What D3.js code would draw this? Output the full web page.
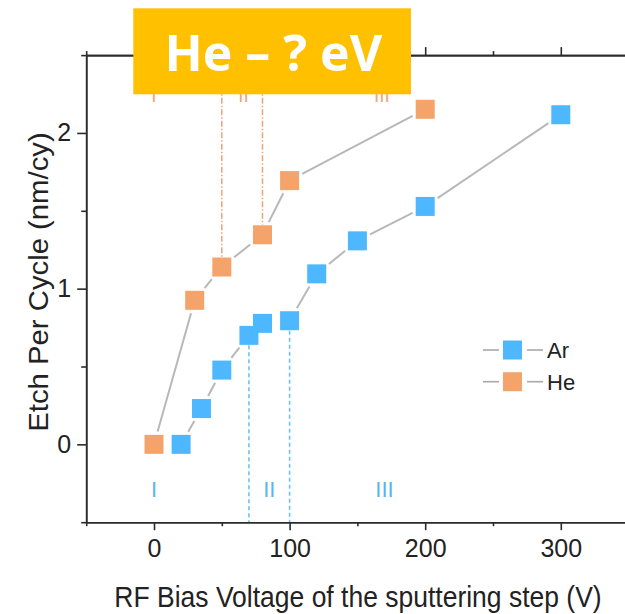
<!DOCTYPE html>
<html>
<head>
<meta charset="utf-8">
<script src="https://cdn.jsdelivr.net/npm/d3@7"></script>
<style>
  html, body { margin: 0; padding: 0; background: #fff; }
  svg { display: block; }
</style>
</head>
<body>
<svg id="chart" width="625" height="614"></svg>
<script>
// ---------------- data ----------------
const arVoltage = [20, 35, 50, 70, 80, 100, 120, 150, 200, 300];
const arEtch    = [0, 0.23, 0.477, 0.70, 0.777, 0.794, 1.095, 1.307, 1.528, 2.117];
const heVoltage = [0, 30, 50, 80, 100, 200];
const heEtch    = [0, 0.925, 1.139, 1.346, 1.694, 2.152];

const xTicks = [0, 100, 200, 300];
const xMinorTicks = [-50, 50, 150, 250, 350];
const yTicks = [0, 1, 2];
const yMinorTicks = [-0.5, 0.5, 1.5, 2.5];

const arBoundaries = [70, 100];      // blue dashed lines
const heBoundaries = [50, 80];       // orange dash-dot lines
const arRegionLabels = [{t: "I", x: 0}, {t: "II", x: 85}, {t: "III", x: 170}];
const heRegionLabels = [{t: "I", x: 0}, {t: "II", x: 66}, {t: "III", x: 168}];

const seriesNames = ["Ar", "He"];
const xTitle = "RF Bias Voltage of the sputtering step (V)";
const yTitle = "Etch Per Cycle (nm/cy)";
const bannerText = "He \u2013 ? eV";

// ---------------- setup ----------------
const AR = "#4DB8FF", HE = "#F4A46A", LINE = "#b8b8b8", AXIS = "#2b2b2b";
const svg = d3.select("#chart");
const x = d3.scaleLinear().domain([-50, 350]).range([86.2, 628.6]);
const y = d3.scaleLinear().domain([-0.5, 2.5]).range([522.2, 55.1]);
const FONT = "'Liberation Sans', Arial, sans-serif";

const ar = arVoltage.map((v, i) => ({x: x(v), y: y(arEtch[i])}));
const he = heVoltage.map((v, i) => ({x: x(v), y: y(heEtch[i])}));

// ---------------- region guides ----------------
const gGuides = svg.append("g");
arBoundaries.forEach(v => {
  const idx = arVoltage.indexOf(v);
  gGuides.append("line")
    .attr("x1", x(v)).attr("x2", x(v))
    .attr("y1", y(arEtch[idx]) + 10).attr("y2", y(-0.5))
    .attr("stroke", "#6cc2f6").attr("stroke-width", 1.6)
    .attr("stroke-dasharray", "4,3");
});
heBoundaries.forEach(v => {
  const idx = heVoltage.indexOf(v);
  gGuides.append("line")
    .attr("x1", x(v)).attr("x2", x(v))
    .attr("y1", y(2.3)).attr("y2", y(heEtch[idx]) - 10)
    .attr("stroke", "#eea472").attr("stroke-width", 1.5)
    .attr("stroke-dasharray", "6,2,1.5,2");
});
svg.append("g").selectAll("text").data(arRegionLabels).join("text")
  .attr("x", d => x(d.x)).attr("y", 496.5)
  .attr("text-anchor", "middle")
  .attr("font-family", FONT).attr("font-size", 22)
  .attr("fill", "#55b8f2").text(d => d.t);
svg.append("g").selectAll("text").data(heRegionLabels).join("text")
  .attr("x", d => x(d.x)).attr("y", 102)
  .attr("text-anchor", "middle")
  .attr("font-family", FONT).attr("font-size", 19)
  .attr("fill", "#f0a878").text(d => d.t);

// ---------------- connecting lines with gaps ----------------
const HALF = 9.5, GAP = 3.5;
function drawSeriesLines(pts) {
  const g = svg.append("g");
  for (let i = 0; i < pts.length - 1; i++) {
    const a = pts[i], b = pts[i + 1];
    const dx = b.x - a.x, dy = b.y - a.y, L = Math.hypot(dx, dy);
    const ux = dx / L, uy = dy / L;
    const d = HALF / Math.max(Math.abs(ux), Math.abs(uy)) + GAP;
    if (L - 2 * d < 4) continue;
    g.append("line")
      .attr("x1", a.x + ux * d).attr("y1", a.y + uy * d)
      .attr("x2", b.x - ux * d).attr("y2", b.y - uy * d)
      .attr("stroke", LINE).attr("stroke-width", 2);
  }
}
drawSeriesLines(he);
drawSeriesLines(ar);

// ---------------- markers ----------------
function drawMarkers(pts, color) {
  svg.append("g").selectAll("rect").data(pts).join("rect")
    .attr("x", d => d.x - HALF).attr("y", d => d.y - HALF)
    .attr("width", 2 * HALF).attr("height", 2 * HALF)
    .attr("fill", color);
}
drawMarkers(he, HE);
drawMarkers(ar, AR);

// ---------------- axes ----------------
function styleAxis(g) {
  g.selectAll(".domain").attr("stroke", AXIS).attr("stroke-width", 1.6);
  g.selectAll(".tick line").attr("stroke", AXIS).attr("stroke-width", 1.6);
  g.selectAll("text").attr("font-family", FONT).attr("fill", "#222");
}
const gxB = svg.append("g").attr("transform", `translate(0,${y(-0.5)})`)
  .call(d3.axisBottom(x).tickValues(xTicks).tickSize(8).tickSizeOuter(0).tickPadding(9).tickFormat(d3.format("d")));
styleAxis(gxB);
gxB.selectAll("text").attr("font-size", 25);
const gxBm = svg.append("g").attr("transform", `translate(0,${y(-0.5)})`)
  .call(d3.axisBottom(x).tickValues(xMinorTicks).tickSize(4).tickSizeOuter(0).tickFormat(""));
styleAxis(gxBm);
const gxT = svg.append("g").attr("transform", `translate(0,${y(2.5)})`)
  .call(d3.axisTop(x).tickValues(xTicks).tickSize(8).tickSizeOuter(0).tickFormat(""));
styleAxis(gxT);
const gxTm = svg.append("g").attr("transform", `translate(0,${y(2.5)})`)
  .call(d3.axisTop(x).tickValues(xMinorTicks).tickSize(4).tickSizeOuter(0).tickFormat(""));
styleAxis(gxTm);
const gyL = svg.append("g").attr("transform", `translate(${x(-50)},0)`)
  .call(d3.axisLeft(y).tickValues(yTicks).tickSize(9).tickSizeOuter(0).tickPadding(6).tickFormat(d3.format("d")));
styleAxis(gyL);
gyL.selectAll("text").attr("font-size", 25);
const gyLm = svg.append("g").attr("transform", `translate(${x(-50)},0)`)
  .call(d3.axisLeft(y).tickValues(yMinorTicks).tickSize(5).tickSizeOuter(0).tickFormat(""));
styleAxis(gyLm);
const gyR = svg.append("g").attr("transform", `translate(${x(350)},0)`)
  .call(d3.axisRight(y).tickValues(yTicks).tickSize(9).tickSizeOuter(0).tickFormat(""));
styleAxis(gyR);

// ---------------- titles ----------------
svg.append("text")
  .attr("transform", "translate(358,607) scale(1,1.09)")
  .attr("text-anchor", "middle")
  .attr("font-family", FONT).attr("font-size", 26.5).attr("fill", "#222")
  .text(xTitle);
svg.append("text")
  .attr("transform", "translate(48,282) rotate(-90) scale(1.085,1)")
  .attr("text-anchor", "middle")
  .attr("font-family", FONT).attr("font-size", 27).attr("fill", "#222")
  .text(yTitle);

// ---------------- legend ----------------
const legendRows = [{name: seriesNames[0], color: AR, cy: 350}, {name: seriesNames[1], color: HE, cy: 381.7}];
const gl = svg.append("g");
legendRows.forEach(r => {
  gl.append("line").attr("x1", 483).attr("x2", 499).attr("y1", r.cy).attr("y2", r.cy)
    .attr("stroke", "#a8a8a8").attr("stroke-width", 1.6);
  gl.append("line").attr("x1", 527).attr("x2", 543).attr("y1", r.cy).attr("y2", r.cy)
    .attr("stroke", "#a8a8a8").attr("stroke-width", 1.6);
  gl.append("rect").attr("x", 503).attr("y", r.cy - 9.5).attr("width", 19).attr("height", 19)
    .attr("fill", r.color);
  gl.append("text").attr("x", 547).attr("y", r.cy + 8)
    .attr("font-family", FONT).attr("font-size", 22).attr("fill", "#222")
    .text(r.name);
});

// ---------------- banner ----------------
svg.append("rect").attr("x", 133.3).attr("y", 8.3).attr("width", 277.7).attr("height", 86)
  .attr("fill", "#FFC000");
svg.append("text").attr("x", 273.3).attr("y", 70.5)
  .attr("text-anchor", "middle")
  .attr("font-family", "'Open Sans', sans-serif").attr("font-weight", "bold")
  .attr("font-size", 50).attr("fill", "#fff")
  .text(bannerText);
</script>
</body>
</html>
